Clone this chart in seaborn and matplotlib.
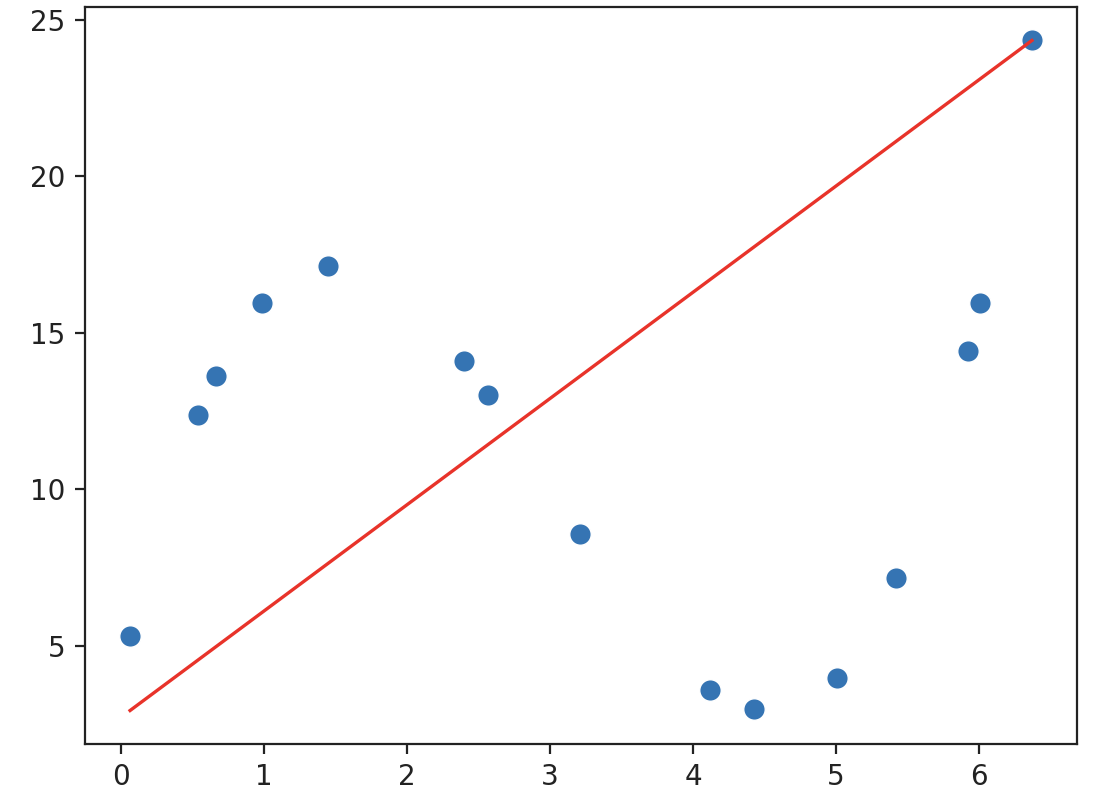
import matplotlib
matplotlib.use("Agg")
import matplotlib.pyplot as plt
import seaborn as sns
import pandas as pd

# Scatter data
x_vals = [0.063, 0.538, 0.664, 0.986, 1.448, 2.40, 2.566, 3.21, 4.12, 4.43, 5.01, 5.42, 5.92, 6.007, 6.37]
y_vals = [5.32, 12.37, 13.61, 15.93, 17.14, 14.09, 13.01, 8.56, 3.60, 2.97, 3.98, 7.16, 14.41, 15.93, 24.33]

# Red line end points
line_x = [0.063, 6.37]
line_y = [2.93, 24.33]

pts = pd.DataFrame({"x": x_vals, "y": y_vals})
ln = pd.DataFrame({"x": line_x, "y": line_y})

DPI = 200
fig = plt.figure(figsize=(1108 / DPI, 802 / DPI), dpi=DPI)
ax = fig.add_axes([0.0767, 0.0723, 0.8953, 0.9190])

sns.scatterplot(data=pts, x="x", y="y", ax=ax, s=60, color="#3574b3",
                edgecolor="white", linewidth=0.5, zorder=2)
sns.lineplot(data=ln, x="x", y="y", ax=ax, color="#e8332a", linewidth=1.2,
             zorder=3)

ax.set_xlabel("")
ax.set_ylabel("")
ax.set_xticks([0, 1, 2, 3, 4, 5, 6])
ax.set_yticks([5, 10, 15, 20, 25])
ax.tick_params(labelsize=10, colors="#222222")
for s in ax.spines.values():
    s.set_color("#222222")

fig.savefig("out.png", dpi=DPI)
